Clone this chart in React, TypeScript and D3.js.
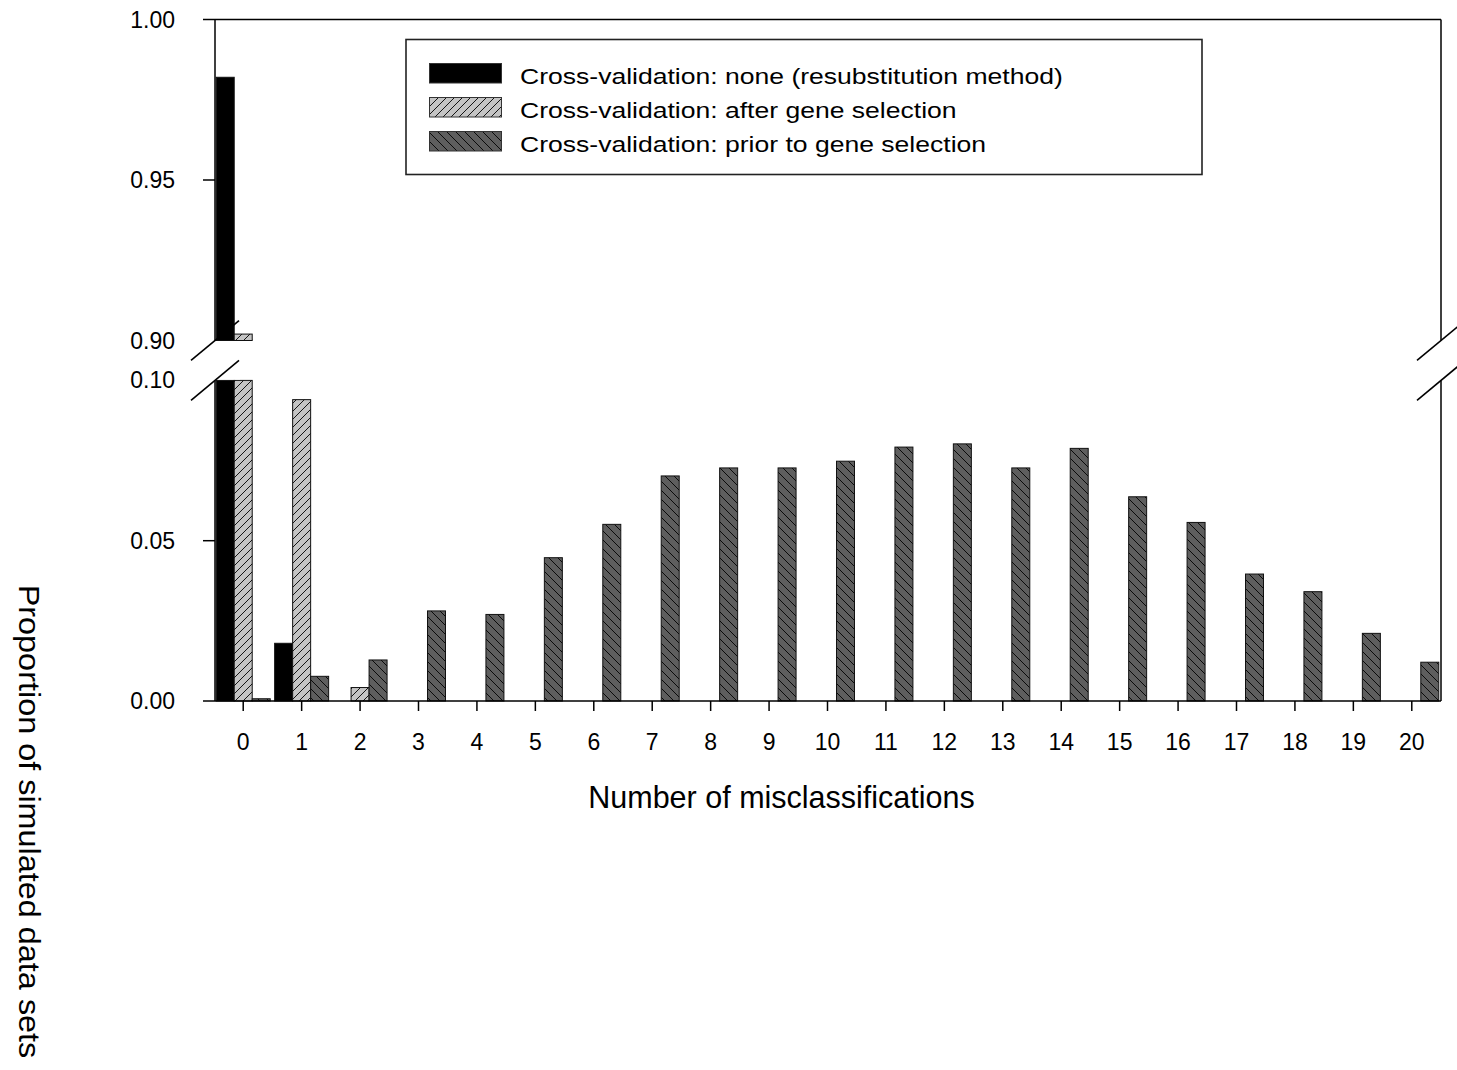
import React from "react";
import * as d3 from "d3";

const categories = [0, 1, 2, 3, 4, 5, 6, 7, 8, 9, 10, 11, 12, 13, 14, 15, 16, 17, 18, 19, 20];
const noneCV = [0.982, 0.018, 0, 0, 0, 0, 0, 0, 0, 0, 0, 0, 0, 0, 0, 0, 0, 0, 0, 0, 0];
const afterSel = [0.902, 0.094, 0.0042, 0, 0, 0, 0, 0, 0, 0, 0, 0, 0, 0, 0, 0, 0, 0, 0, 0, 0];
const priorSel = [0.0007, 0.0077, 0.0128, 0.0281, 0.027, 0.0447, 0.0551, 0.0702, 0.0727, 0.0727, 0.0748, 0.0792, 0.0802, 0.0727, 0.0788, 0.0637, 0.0557, 0.0396, 0.0341, 0.0211, 0.0121];
const seriesNames = [
  "Cross-validation: none (resubstitution method)",
  "Cross-validation: after gene selection",
  "Cross-validation: prior to gene selection",
];
const lowTicks = [0, 0.05];
const lowLabels = [0, 0.05, 0.1];
const highTicks = [0.95, 1.0];
const highLabels = [0.9, 0.95, 1.0];

const FONT = "'Liberation Sans', Arial, Helvetica, sans-serif";

export default function App() {
  const left = 215;
  const right = 1441;
  const x = d3.scaleBand<number>().domain(categories).range([214, 1441]).padding(0);
  const xc = (c: number) => (x(c) as number) + x.bandwidth() / 2;
  const yLow = d3.scaleLinear().domain([0, 0.1]).range([701, 380.4]);
  const yHigh = d3.scaleLinear().domain([0.9, 1.0]).range([340.5, 19.5]);
  const barW = 18;
  const series = [noneCV, afterSel, priorSel];
  const fills = ["#000", "url(#hatchLight)", "url(#hatchDark)"];
  const offsets = [-27, -9, 9];

  const bars: React.ReactNode[] = [];
  series.forEach((vals, si) => {
    vals.forEach((v, i) => {
      if (v <= 0) return;
      const bx = xc(categories[i]) + offsets[si];
      const lowTop = yLow(Math.min(v, 0.1));
      bars.push(
        <rect key={`l${si}-${i}`} x={bx} y={lowTop} width={barW} height={yLow(0) - lowTop}
          fill={fills[si]} stroke="#111" strokeWidth={1} />
      );
      if (v > 0.9) {
        const hTop = yHigh(v);
        bars.push(
          <rect key={`h${si}-${i}`} x={bx} y={hTop} width={barW} height={yHigh(0.9) - hTop}
            fill={fills[si]} stroke="#111" strokeWidth={1} />
        );
      }
    });
  });

  const slope = 0.83;
  const brk = (cx: number, cy: number, key: string) => (
    <line key={key} x1={cx - 24} y1={cy + 24 * slope} x2={cx + 24} y2={cy - 24 * slope}
      stroke="#000" strokeWidth={1.6} />
  );

  return (
    <div style={{ position: "absolute", left: 0, top: 0 }}>
      <svg width={1457} height={1070} style={{ display: "block", background: "#fff" }} fontFamily={FONT}>
        <defs>
          <pattern id="hatchLight" patternUnits="userSpaceOnUse" width={8} height={8}>
            <rect width={8} height={8} fill="#c4c4c4" />
            <path d="M0,8 L8,0 M-2,2 L2,-2 M6,10 L10,6" stroke="#000" strokeWidth={0.9} />
          </pattern>
          <pattern id="hatchDark" patternUnits="userSpaceOnUse" width={9} height={9}>
            <rect width={9} height={9} fill="#5e5e5e" />
            <path d="M0,0 L9,9 M-2,7 L2,11 M7,-2 L11,2" stroke="#000" strokeWidth={0.9} />
          </pattern>
        </defs>

        {bars}

        {/* axes and frame */}
        <g stroke="#000" strokeWidth={1.5} fill="none">
          <line x1={left} y1={yHigh(1)} x2={left} y2={yHigh(0.9)} />
          <line x1={left} y1={yLow(0.1)} x2={left} y2={yLow(0)} />
          <line x1={right} y1={yHigh(1)} x2={right} y2={yHigh(0.9)} />
          <line x1={right} y1={yLow(0.1)} x2={right} y2={yLow(0)} />
          <line x1={left} y1={yHigh(1)} x2={right} y2={yHigh(1)} />
          <line x1={left} y1={yLow(0)} x2={right} y2={yLow(0)} />
          {lowTicks.map((t) => (
            <line key={`lt${t}`} x1={left - 12} x2={left} y1={yLow(t)} y2={yLow(t)} />
          ))}
          {highTicks.map((t) => (
            <line key={`ht${t}`} x1={left - 12} x2={left} y1={yHigh(t)} y2={yHigh(t)} />
          ))}
          {categories.map((c) => (
            <line key={`xt${c}`} x1={xc(c)} x2={xc(c)} y1={yLow(0)} y2={yLow(0) + 10} />
          ))}
        </g>

        {/* break marks */}
        <rect x={190} y={yHigh(0.9) + 1} width={50} height={yLow(0.1) - yHigh(0.9) - 2} fill="#fff" />
        {brk(left, yHigh(0.9), "b1")}
        {brk(left, yLow(0.1), "b2")}
        {brk(right, yHigh(0.9), "b3")}
        {brk(right, yLow(0.1), "b4")}

        {/* tick labels */}
        <g fontSize={23} fill="#000" textAnchor="end">
          {lowLabels.map((t) => (
            <text key={`ll${t}`} x={175} y={yLow(t) + 8}>{d3.format(".2f")(t)}</text>
          ))}
          {highLabels.map((t) => (
            <text key={`hl${t}`} x={175} y={yHigh(t) + 8}>{d3.format(".2f")(t)}</text>
          ))}
        </g>
        <g fontSize={23} fill="#000" textAnchor="middle">
          {categories.map((c) => (
            <text key={`xl${c}`} x={xc(c)} y={749.5}>{c}</text>
          ))}
        </g>

        {/* axis titles */}
        <text x={781.5} y={808} fontSize={30.5} textAnchor="middle" fill="#000">Number of misclassifications</text>
        <text transform="translate(18.5,821.5) rotate(90) scale(1.08,1)" fontSize={30} textAnchor="middle" fill="#000">
          Proportion of simulated data sets
        </text>

        {/* legend */}
        <rect x={406} y={39.5} width={796} height={135} fill="#fff" stroke="#222" strokeWidth={1.6} />
        {seriesNames.map((name, i) => (
          <g key={name}>
            <rect x={429.5} y={63.5 + i * 34} width={72} height={19.5} fill={fills[i]} stroke="#333" strokeWidth={1} />
            <text transform={`translate(520,${83.5 + i * 34}) scale(1.18,1)`} fontSize={22.5} fill="#000">{name}</text>
          </g>
        ))}
      </svg>
    </div>
  );
}
